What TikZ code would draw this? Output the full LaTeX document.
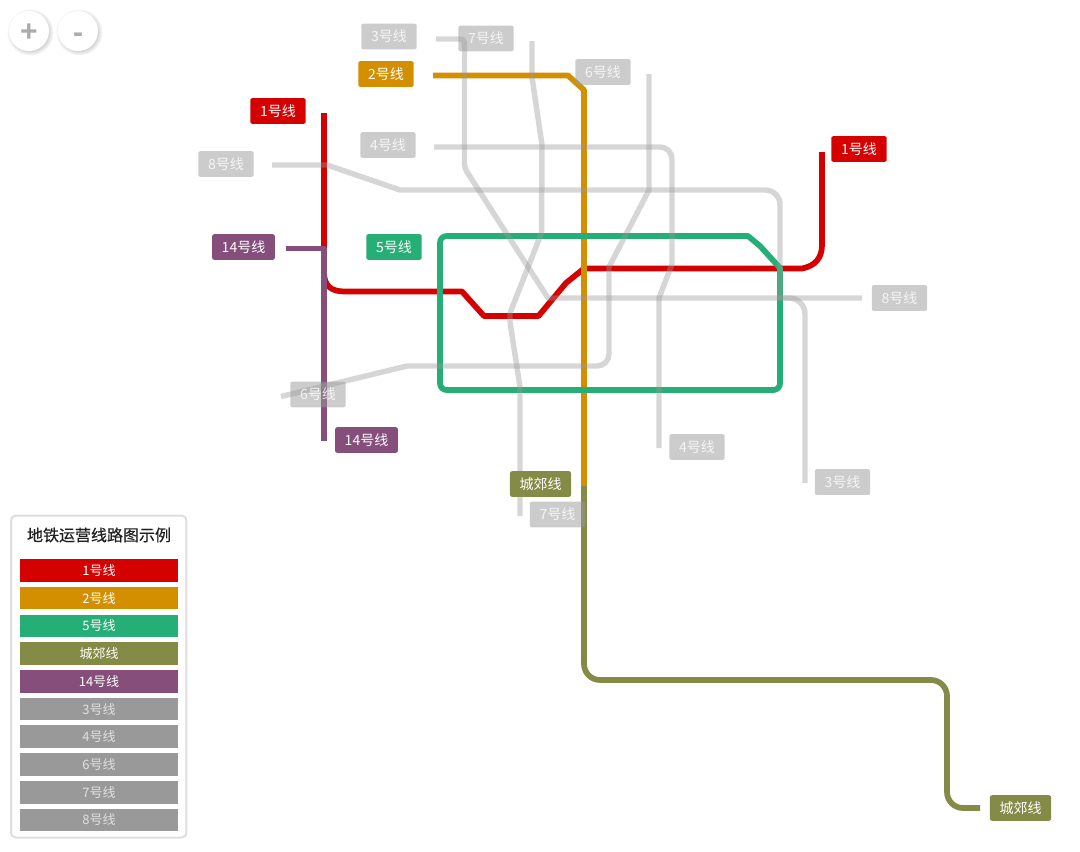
\documentclass[tikz,border=0pt]{standalone}
\usepackage{fontspec}
\setmainfont{Noto Sans CJK SC}
\newfontfamily\titlefont[FakeBold=0.4]{Noto Sans CJK SC}
\newfontfamily\btnfont{Liberation Sans}
\definecolor{cRed}{HTML}{D50000}
\definecolor{cGold}{HTML}{D48F00}
\definecolor{cGreen}{HTML}{25AE76}
\definecolor{cOlive}{HTML}{848B47}
\definecolor{cPurple}{HTML}{854E7B}
\definecolor{cGrey}{HTML}{999999}
\tikzset{
  x=0.75pt,y=-0.75pt,
  metro/.style={line width=4.3pt,line join=round},
  ghost/.style={line width=4.1pt,draw=cGrey,draw opacity=.4,line join=round},
  lab/.style={fill=#1,text=white,rounded corners=1.5pt,inner sep=0pt,minimum width=41.6pt,minimum height=19.2pt,font=\fontsize{10.5pt}{12pt}\selectfont},
  labw/.style={lab=#1,minimum width=47pt},
  labo/.style={lab=#1,minimum width=45.8pt},
  glab/.style={lab=cGrey,fill opacity=.5,text opacity=.8},
  leg/.style={fill=#1,text=white,inner sep=0pt,minimum width=118.5pt,minimum height=17pt,font=\fontsize{9.75pt}{11pt}\selectfont},
  legbox/.style={draw=black!13,line width=1.5pt,rounded corners=3.5pt,fill=white,minimum width=131.5pt,minimum height=241.5pt,inner sep=0pt},
  legtitle/.style={text=black!88,inner sep=0pt,font=\fontsize{12pt}{14pt}\titlefont},
  zoombtn/.style={circle,fill=white,minimum size=30pt,inner sep=0pt,text=black!33,font=\fontsize{22.5pt}{24pt}\btnfont\bfseries},
}
\begin{document}
\begin{tikzpicture}
\useasboundingbox (0,0) rectangle (1080,851);
% free line ends
\coordinate (r1) at (324,113);   \coordinate (r2) at (822,152);
\coordinate (g1) at (433,75.5);  \coordinate (g2) at (584,486);
\coordinate (o2) at (980,808);
\coordinate (p1) at (286,248.5); \coordinate (p2) at (324,441);
\coordinate (t1) at (436,39);    \coordinate (t2) at (805,483);
\coordinate (f1) at (434,147);   \coordinate (f2) at (659,448);
\coordinate (s1) at (649,74);    \coordinate (s2) at (281,396.5);
\coordinate (v1) at (532,41);    \coordinate (v2) at (520,516);
\coordinate (e1) at (272,165);   \coordinate (e2) at (862,298);
% coloured lines
\draw[metro,cRed] (r1) -- (324,272) .. controls (324,286) and (331,291.5) .. (345,291.5) -- (462,291.5) -- (484,316) -- (538.5,316) -- (566,283) -- (584,268.5) -- (802,268.5) .. controls (815,266) and (822,258) .. (822,245) -- (r2);
\draw[metro,cGold] (g1) -- (568,75.5) -- (584,90) -- (g2);
\draw[metro,cGreen] (600,236) -- (748,236) -- (760,246) -- (780,268) [rounded corners=5pt] -- (780,390) -- (440,390) -- (440,236) -- (600,236);
\draw[metro,cOlive,rounded corners=12pt] (g2) -- (584,680) -- (947,680) -- (947,808) -- (o2);
\draw[metro,cPurple] (p1) -- (324,248.5) -- (p2);
% grey lines
\draw[ghost,rounded corners=3pt] (t1) -- (464.5,39) -- (464.5,168) [sharp corners] -- (548,298) [rounded corners=12pt] -- (805,298) -- (t2);
\draw[ghost,rounded corners=9pt] (f1) -- (672,147) [sharp corners] -- (672,264) -- (659,298) -- (f2);
\draw[ghost] (s1) -- (649,190) -- (609,267) [rounded corners=9pt] -- (609,366) [sharp corners] -- (407,366) -- (s2);
\draw[ghost] (v1) -- (532,77) -- (542,145) -- (541.5,233) -- (510,313) -- (510,322) -- (520,387) -- (v2);
\draw[ghost] (e1) -- (327,165) -- (400,190) [rounded corners=11pt] -- (780,190) [sharp corners] -- (780,298) -- (e2);
% labels
\node[lab=cRed] (n1a) at (278,111) {1号线};
\node[lab=cRed] (n1b) at (859,149) {1号线};
\node[lab=cGold] (n2a) at (386,74) {2号线};
\node[lab=cGreen] (n5a) at (394,247) {5号线};
\node[labw=cPurple] (n14a) at (243.5,247) {14号线};
\node[labw=cPurple] (n14b) at (366.5,440) {14号线};
\node[labo=cOlive] (nca) at (540.5,484) {城郊线};
\node[labo=cOlive] (ncb) at (1020.5,808) {城郊线};
\node[glab] (n3a) at (389,36.5) {3号线};
\node[glab] (n3b) at (842.5,482) {3号线};
\node[glab] (n4a) at (388,145) {4号线};
\node[glab] (n4b) at (697,447) {4号线};
\node[glab] (n6a) at (603,72) {6号线};
\node[glab] (n6b) at (318,394.5) {6号线};
\node[glab] (n7a) at (486,38.5) {7号线};
\node[glab] (n7b) at (557.5,514.5) {7号线};
\node[glab] (n8a) at (226,164) {8号线};
\node[glab] (n8b) at (899.5,298) {8号线};
% legend
\node[legbox] (legend) at (98.75,676.5) {};
\node[legtitle] (legt) at (99,535) {地铁运营线路图示例};
\node[leg=cRed] (l1) at (99,570.4) {1号线};
\node[leg=cGold] (l2) at (99,598.1) {2号线};
\node[leg=cGreen] (l3) at (99,626) {5号线};
\node[leg=cOlive] (l4) at (99,653.7) {城郊线};
\node[leg=cPurple] (l5) at (99,681.4) {14号线};
\node[leg=cGrey,text=white!88!black] (l6) at (99,709.1) {3号线};
\node[leg=cGrey,text=white!88!black] (l7) at (99,736.8) {4号线};
\node[leg=cGrey,text=white!88!black] (l8) at (99,764.5) {6号线};
\node[leg=cGrey,text=white!88!black] (l9) at (99,792.2) {7号线};
\node[leg=cGrey,text=white!88!black] (l10) at (99,819.9) {8号线};
% zoom buttons
\foreach \cx in {29,78}{
  \foreach \rr in {20,19,18,17,16,15}{
    \fill[black,opacity=.04] (\cx+1.5,31+1.5) circle[radius=\rr*1.1+1];
  }
}
\node[zoombtn] (zin) at (29,31) {\raisebox{-7.6pt}[0pt][0pt]{+}};
\node[zoombtn] (zout) at (78,31) {\raisebox{-8.5pt}[0pt][0pt]{-}};
\end{tikzpicture}
\end{document}
